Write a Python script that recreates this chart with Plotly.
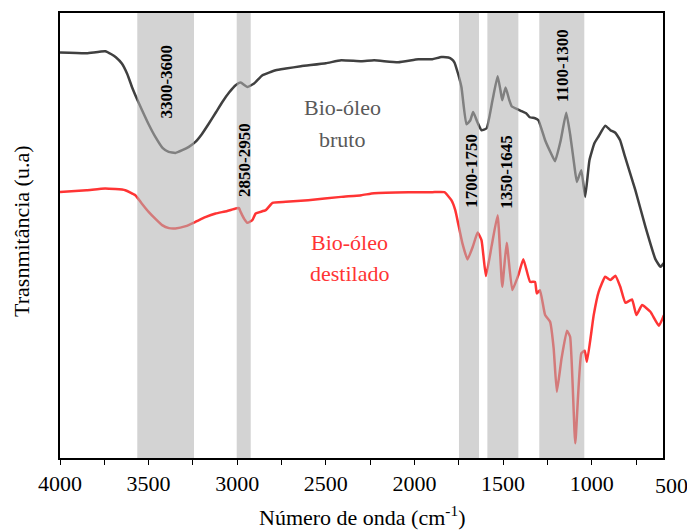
import plotly.graph_objects as go

# Wavenumbers (cm-1) and transmittance (a.u.)
bruto_wn = [4000, 3850, 3745, 3710, 3685, 3651, 3620, 3594, 3565, 3537, 3500, 3462, 3420, 3387, 3349,
            3310, 3273, 3236, 3200, 3160, 3120, 3084, 3045, 3009,
            2981, 2943, 2905, 2858, 2783, 2726, 2641, 2500, 2414, 2300, 2228, 2092, 1978, 1900, 1848,
            1809, 1790, 1775,
            1755, 1735, 1707, 1685, 1669, 1645, 1622, 1593, 1560, 1531, 1515, 1505, 1486, 1465, 1452,
            1420, 1395, 1370, 1350, 1320, 1301, 1263, 1230, 1207, 1175,
            1144, 1122, 1100, 1084, 1059, 1037, 1013, 985, 961, 924, 895, 867, 840, 815, 754, 697, 641, 612, 593]
bruto_t = [405.7, 405, 407, 404, 401, 394.7, 384, 371.3, 359, 348, 334, 321.3, 310, 306.3, 305.3,
           308, 311.3, 316.3, 324, 334.7, 346, 356.3, 366, 373,
           375.7, 371.3, 374.7, 383, 388, 389.7, 392, 395, 398, 397, 398, 396, 399, 399, 401.3,
           400.7, 399, 396,
           385, 371, 334, 338, 346.3, 336, 328, 330, 358, 382, 368, 358, 370.7, 358, 352,
           349, 347, 345, 341, 340, 338, 318, 305, 297, 318,
           345.5, 324, 295, 276.3, 288, 261.3, 298, 315, 322, 332.5, 328, 325.5, 318, 303, 268, 231.3, 199, 191.3, 195]

dest_wn = [4000, 3850, 3745, 3632, 3575, 3540, 3500, 3460, 3424, 3385, 3349, 3290, 3236, 3180, 3122, 3060, 3009,
           2990, 2981, 2960, 2943, 2915, 2896,
           2839, 2801, 2726, 2600, 2414, 2300, 2228, 2035, 1900, 1831, 1792, 1770, 1754, 1730, 1701, 1670,
           1644, 1622, 1597, 1565, 1531,
           1505, 1480, 1448, 1414, 1386, 1348, 1320, 1310, 1292, 1263, 1235, 1215, 1197, 1170, 1140, 1122,
           1093, 1059, 1040, 1027, 989, 961, 924, 895, 867, 839, 810, 773, 748, 716, 669, 621, 593]
dest_t = [266.3, 268, 269.7, 268, 263, 255, 246.3, 239, 233, 230, 229.7, 232, 236.3, 241, 244.7, 247, 249.7,
          250, 246.3, 239, 235.3, 238, 244.7,
          248, 255.3, 256.3, 258, 261.3, 263, 265, 266, 266, 266, 258, 248, 235, 215, 198.7, 212,
          225.7, 218, 182, 212, 243,
          171.3, 215.3, 168, 183, 199, 176.3, 176.3, 164.7, 168, 143, 136.3, 110, 66.3, 100, 127.3, 121.3,
          14.7, 104.7, 107.3, 96.3, 143, 166.3, 181.3, 178, 182.3, 171.3, 155.3, 158.7, 143, 153,
          146.3, 132.3, 143]

# Highlighted bands (start, end) in cm-1 and their labels
band_start = [3564, 3003, 1749, 1589, 1296]
band_end = [3244, 2924, 1636, 1414, 1042]
band_labels = ["3300-3600", "2850-2950", "1700-1750", "1350-1645", "1100-1300"]
band_label_x = [3400, 2958, 1678, 1480, 1169]
band_label_y = [377, 298, 287, 286, 393]

tick_vals = [4000, 3750, 3500, 3250, 3000, 2750, 2500, 2250, 2000, 1750, 1500, 1250, 1000, 750]
tick_text = ["4000", "", "3500", "", "3000", "", "2500", "", "2000", "", "1500", "", "1000", ""]
end_tick_text = "500"

SERIF = "Liberation Serif, serif"

fig = go.Figure()
fig.add_trace(go.Scatter(x=bruto_wn, y=bruto_t, mode="lines",
                         line=dict(color="#404040", width=2.5, shape="spline", smoothing=0.4),
                         name="Bio-óleo bruto"))
fig.add_trace(go.Scatter(x=dest_wn, y=dest_t, mode="lines",
                         line=dict(color="#ff3434", width=2.5, shape="spline", smoothing=0.4),
                         name="Bio-óleo destilado"))

for s, e in zip(band_start, band_end):
    fig.add_shape(type="rect", xref="x", yref="paper", x0=s, x1=e, y0=0, y1=1,
                  fillcolor="rgb(177,177,177)", opacity=0.565, line=dict(width=0), layer="above")

for lab, lx, ly in zip(band_labels, band_label_x, band_label_y):
    fig.add_annotation(x=lx, y=ly, text=f"<b>{lab}</b>", showarrow=False, textangle=-90,
                       font=dict(family=SERIF, size=17, color="black"))

fig.add_annotation(x=2409, y=351, text="Bio-óleo", showarrow=False,
                   font=dict(family=SERIF, size=22, color="#595959"))
fig.add_annotation(x=2409, y=319, text="bruto", showarrow=False,
                   font=dict(family=SERIF, size=22, color="#595959"))
fig.add_annotation(x=2369, y=216, text="Bio-óleo", showarrow=False,
                   font=dict(family=SERIF, size=22, color="#ff3434"))
fig.add_annotation(x=2369, y=185, text="destilado", showarrow=False,
                   font=dict(family=SERIF, size=22, color="#ff3434"))

# axis titles and end label
fig.add_annotation(xref="paper", yref="paper", x=0, y=0.508, xshift=-38, text="Trasnmitância (u.a)",
                   showarrow=False, textangle=-90, xanchor="center", yanchor="middle",
                   font=dict(family=SERIF, size=22, color="black"))
fig.add_annotation(xref="paper", yref="paper", x=0.5, y=0, yshift=-58, text="Número de onda (cm<sup>-1</sup>)",
                   showarrow=False, xanchor="center", yanchor="middle",
                   font=dict(family=SERIF, size=22, color="black"))
fig.add_annotation(xref="paper", yref="paper", x=1, y=0, xshift=8, yshift=-27, text=end_tick_text,
                   showarrow=False, xanchor="center", yanchor="middle",
                   font=dict(family=SERIF, size=22, color="black"))

fig.update_layout(
    width=687, height=530,
    margin=dict(l=60, r=24, t=13, b=72),
    plot_bgcolor="white", paper_bgcolor="white",
    showlegend=False,
    font=dict(family=SERIF, size=22, color="black"),
)
fig.update_xaxes(range=[4000, 598], tickvals=tick_vals, ticktext=tick_text,
                 ticks="outside", ticklen=5, tickwidth=1.2, tickcolor="black",
                 showline=True, linecolor="black", linewidth=1.5, mirror=True,
                 showgrid=False, zeroline=False,
                 tickfont=dict(family=SERIF, size=22, color="black"))
fig.update_yaxes(range=[0, 445.3], showticklabels=False, ticks="",
                 showline=True, linecolor="black", linewidth=1.5, mirror=True,
                 showgrid=False, zeroline=False)

fig.write_html("out.html", config={"displayModeBar": False},
               post_script="document.body.style.margin='0';document.body.style.overflow='hidden';")
